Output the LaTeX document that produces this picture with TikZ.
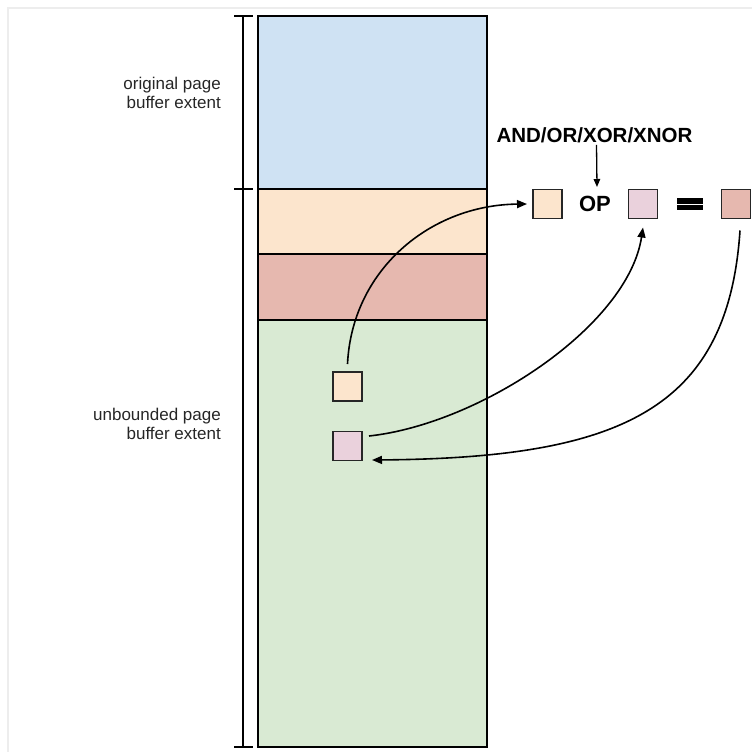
\documentclass[tikz,border=0pt]{standalone}
\usepackage{fontspec}
\setmainfont{Liberation Sans}
\usetikzlibrary{arrows.meta,positioning}
\definecolor{BufBlue}{HTML}{CFE2F3}
\definecolor{BufPeach}{HTML}{FCE5CD}
\definecolor{BufRed}{HTML}{E6B8AF}
\definecolor{BufGreen}{HTML}{D9EAD3}
\definecolor{BufPink}{HTML}{EAD1DC}
\definecolor{BufText}{HTML}{262626}

\begin{document}
\begin{tikzpicture}[x=1pt,y=-1pt,
  band/.style={draw=black,line width=1.5pt,inner sep=0pt,outer sep=0pt,minimum width=229pt},
  sq/.style={draw=black!85,line width=1.5pt,inner sep=0pt,outer sep=0pt,minimum size=29pt},
  lbl/.style={align=right,anchor=east,inner sep=0pt,text=BufText,font=\fontsize{17}{19.5}\selectfont},
  bold/.style={inner sep=0pt,font=\fontsize{#1}{24}\selectfont\bfseries},
  link/.style={line width=1.6pt,-{Triangle[length=10pt,width=8pt]}}]
  \useasboundingbox (0,0) rectangle (752,752);
  \draw[black!7,line width=1.5pt] (8,752) -- (8,8) -- (752,8);
  % buffer column
  \node[band,fill=BufBlue,minimum height=173pt] (blue) at (372.5,102.5) {};
  \node[band,fill=BufPeach,minimum height=65pt] (peach) at (372.5,221.5) {};
  \node[band,fill=BufRed,minimum height=66pt] (red) at (372.5,287) {};
  \node[band,fill=BufGreen,minimum height=427pt] (green) at (372.5,533.5) {};
  % extent bracket
  \draw[line width=1.8pt] ([xshift=-15pt]blue.north west) -- ([xshift=-15pt]green.south west);
  \foreach \p in {blue.north west,blue.south west,green.south west}{
    \draw[line width=1.8pt] ([xshift=-24pt]\p) -- ([xshift=-5pt]\p);}
  \node[lbl] (orig) at (221,93) {original page\\buffer extent};
  \node[lbl] (unb) at (221,424) {unbounded page\\buffer extent};
  % operands
  \node[sq,fill=BufPeach] (x) at (347.5,386.5) {};
  \node[sq,fill=BufPink] (y) at (347.5,446) {};
  \node[sq,fill=BufPeach] (a) at (547.5,204) {};
  \node[bold=22] (op) at (595,204) {OP};
  \node[sq,fill=BufPink] (b) at (643,204) {};
  \node[fill=black,inner sep=0pt,minimum width=26pt,minimum height=12pt] (eq) at (690,204) {};
  \draw[white,line width=1pt] (eq.west) -- (eq.east);
  \node[sq,fill=BufRed] (c) at (736,204) {};
  \node[bold=20.5] (ops) at (594.5,135) {AND/OR/XOR/XNOR};
  % arrows
  \draw[line width=1.3pt,-{Triangle[length=8pt,width=6.5pt]}] ([xshift=2pt,yshift=-2pt]ops.south) -- ([xshift=2pt,yshift=9pt]op.north);
  \draw[link] ([yshift=8pt]x.north) .. controls (352,270) and (430,205) .. ([xshift=-6pt]a.west);
  \draw[link] ([xshift=7pt,yshift=10pt]y.east) .. controls (480,424) and (628,326) .. ([yshift=-9pt]b.south);
  \draw[link] ([xshift=4pt,yshift=-12pt]c.south) .. controls (728,410) and (620,458) .. ([xshift=10pt,yshift=-14pt]y.east);
\end{tikzpicture}
\end{document}
